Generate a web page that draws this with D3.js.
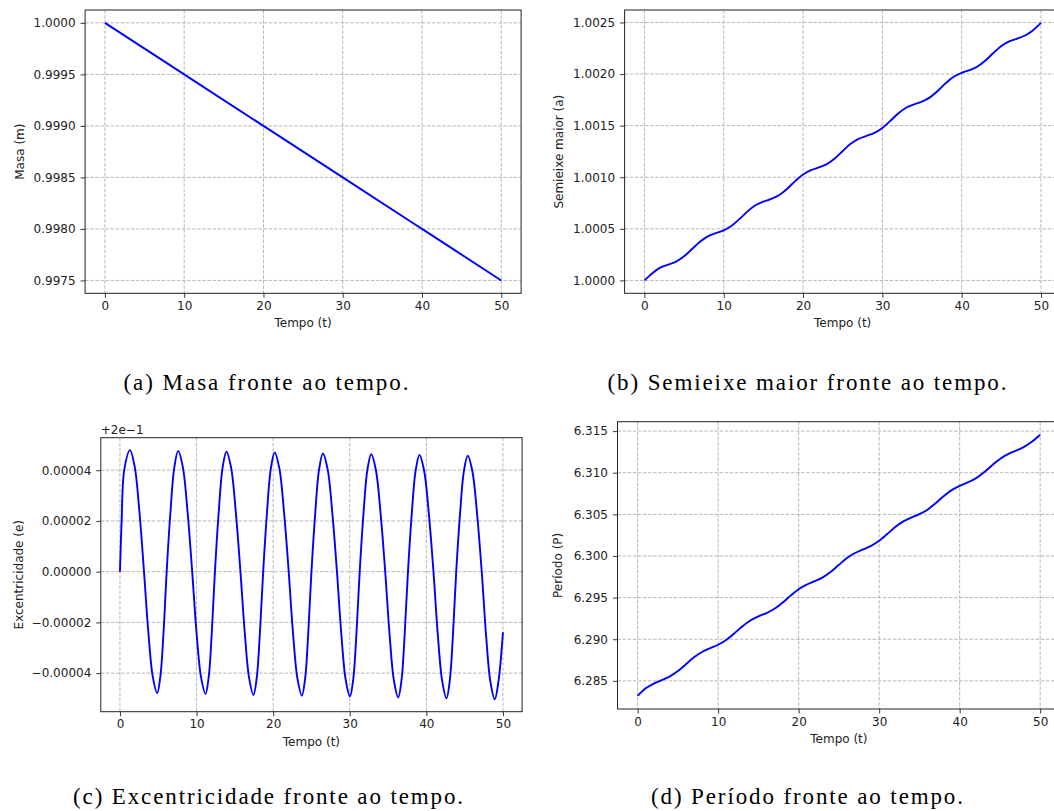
<!DOCTYPE html>
<html><head><meta charset="utf-8">
<script src="https://cdn.jsdelivr.net/npm/d3@7"></script>
<style>body{margin:0;background:#fff}svg{display:block}</style>
</head><body>
<svg id="fig" width="1054" height="811"></svg>
<script>
// ---------- data ----------
const xTicks = [0, 10, 20, 30, 40, 50];

// (a) Masa
const massTime = [0, 10, 20, 30, 40, 50];
const massValues = [1.0000, 0.9995, 0.9990, 0.9985, 0.9980, 0.9975];
const massTicks = [0.9975, 0.9980, 0.9985, 0.9990, 0.9995, 1.0000];
const massTickLabels = ["0.9975", "0.9980", "0.9985", "0.9990", "0.9995", "1.0000"];

// (b) Semieixe maior
const axisTime = [0,1,2,3,4,5,6,7,8,9,10,11,12,13,14,15,16,17,18,19,20,21,22,23,24,25,
  26,27,28,29,30,31,32,33,34,35,36,37,38,39,40,41,42,43,44,45,46,47,48,49,50];
const semiMajor = [1.0000000, 1.0000700, 1.0001249, 1.0001524, 1.0001827, 1.0002337, 1.0003042,
  1.0003753, 1.0004274, 1.0004583, 1.0004854, 1.0005297, 1.0005961, 1.0006694, 1.0007280,
  1.0007638, 1.0007897, 1.0008276, 1.0008885, 1.0009622, 1.0010267, 1.0010685, 1.0010949,
  1.0011275, 1.0011821, 1.0012542, 1.0013234, 1.0013718, 1.0014007, 1.0014294, 1.0014771,
  1.0015459, 1.0016183, 1.0016735, 1.0017065, 1.0017328, 1.0017740, 1.0018380, 1.0019117,
  1.0019732, 1.0020117, 1.0020376, 1.0020729, 1.0021309, 1.0022041, 1.0022709, 1.0023158,
  1.0023432, 1.0023737, 1.0024251, 1.0024959];
const semiTicks = [1.0000, 1.0005, 1.0010, 1.0015, 1.0020, 1.0025];
const semiTickLabels = ["1.0000", "1.0005", "1.0010", "1.0015", "1.0020", "1.0025"];

// (c) Excentricidade (offset from 0.2, in units of 1e-6)
const eccTime = [0, 0.22, 0.56, 1.31,
  1.92, 2.53, 3.14, 3.71, 4.29, 4.86, 5.27, 5.69, 6.10, 6.60, 7.10, 7.60,
  8.21, 8.82, 9.43, 10.00, 10.59, 11.17, 11.58, 11.99, 12.40, 12.90, 13.40, 13.90,
  14.51, 15.12, 15.73, 16.30, 16.87, 17.43, 17.85, 18.27, 18.70, 19.20, 19.70, 20.20,
  20.81, 21.42, 22.03, 22.60, 23.18, 23.75, 24.17, 24.58, 25.00, 25.50, 26.00, 26.50,
  27.11, 27.72, 28.33, 28.90, 29.47, 30.03, 30.45, 30.87, 31.30, 31.80, 32.30, 32.80,
  33.41, 34.02, 34.63, 35.20, 35.77, 36.33, 36.75, 37.17, 37.60, 38.10, 38.60, 39.10,
  39.71, 40.32, 40.93, 41.50, 42.07, 42.63, 43.05, 43.47, 43.90, 44.40, 44.90, 45.40,
  46.01, 46.62, 47.23, 47.80, 48.37, 48.93, 49.40, 50.00];
const eccOffsetMicro = [0, 20, 40, 47.9,
  41.5, 24.0, 0, -24.0, -41.5, -47.9, -41.5, -24.0, 0, 23.8, 41.2, 47.6,
  41.2, 23.8, 0, -24.1, -41.7, -48.2, -41.7, -24.1, 0, 23.7, 41.0, 47.3,
  41.0, 23.7, 0, -24.3, -42.1, -48.6, -42.1, -24.3, 0, 23.5, 40.7, 47.0,
  40.7, 23.5, 0, -24.5, -42.3, -48.9, -42.3, -24.5, 0, 23.3, 40.4, 46.6,
  40.4, 23.3, 0, -24.6, -42.6, -49.2, -42.6, -24.6, 0, 23.2, 40.1, 46.3,
  40.1, 23.2, 0, -24.8, -43.0, -49.6, -43.0, -24.8, 0, 23.0, 39.8, 46.0,
  39.8, 23.0, 0, -25.0, -43.2, -49.9, -43.2, -25.0, 0, 22.9, 39.6, 45.7,
  39.6, 22.9, 0, -25.2, -43.6, -50.3, -43.6, -23.9];
const eccTicks = [-0.00004, -0.00002, 0, 0.00002, 0.00004];
const eccTickLabels = ["\u22120.00004", "\u22120.00002", "0.00000", "0.00002", "0.00004"];
const eccOffsetLabel = "+2e\u22121";

// (d) Período
const periodValues = [6.28319, 6.28410, 6.28468, 6.28510, 6.28554, 6.28618, 6.28700, 6.28783,
  6.28847, 6.28892, 6.28934, 6.28991, 6.29069, 6.29154, 6.29225, 6.29275, 6.29315, 6.29366,
  6.29439, 6.29524, 6.29601, 6.29656, 6.29697, 6.29743, 6.29810, 6.29894, 6.29975, 6.30036,
  6.30079, 6.30122, 6.30182, 6.30263, 6.30347, 6.30415, 6.30461, 6.30502, 6.30556, 6.30633,
  6.30718, 6.30791, 6.30843, 6.30883, 6.30932, 6.31003, 6.31087, 6.31166, 6.31224, 6.31266,
  6.31310, 6.31374, 6.31456];
const periodTicks = [6.285, 6.290, 6.295, 6.300, 6.305, 6.310, 6.315];
const periodTickLabels = ["6.285", "6.290", "6.295", "6.300", "6.305", "6.310", "6.315"];

const captions = ["(a) Masa fronte ao tempo.", "(b) Semieixe maior fronte ao tempo.",
  "(c) Excentricidade fronte ao tempo.", "(d) Período fronte ao tempo."];
const yLabels = ["Masa (m)", "Semieixe maior (a)", "Excentricidade (e)", "Período (P)"];
const xLabel = "Tempo (t)";

// ---------- layout ----------
const svg = d3.select("#fig");
svg.append("rect").attr("width", 1054).attr("height", 811).attr("fill", "#fff");

const panels = [
  {box: {l: 85.1, r: 521.1, t: 10, b: 293.3}, xs: massTime, ys: massValues,
   ticks: massTicks, labels: massTickLabels, ylab: yLabels[0], ylabX: 23.5,
   cap: captions[0], capX: 266, capY: 390, capLen: 285},
  {box: {l: 624.6, r: 1060.8, t: 10, b: 293.3}, xs: axisTime, ys: semiMajor,
   ticks: semiTicks, labels: semiTickLabels, ylab: yLabels[1], ylabX: 563,
   cap: captions[1], capX: 807, capY: 390, capLen: 399},
  {box: {l: 100.8, r: 522.1, t: 437.7, b: 711.7}, xs: eccTime, ys: eccOffsetMicro.map(v => v * 1e-6),
   ticks: eccTicks, labels: eccTickLabels, ylab: yLabels[2], ylabX: 22.5,
   cap: captions[2], capX: 268, capY: 804, capLen: 390, offsetText: eccOffsetLabel},
  {box: {l: 617.5, r: 1060.3, t: 421.7, b: 709}, xs: axisTime, ys: periodValues,
   ticks: periodTicks, labels: periodTickLabels, ylab: yLabels[3], ylabX: 562,
   cap: captions[3], capX: 807, capY: 804, capLen: 312}
];

const FONT = "DejaVu Sans";
const ink = "#222";

panels.forEach(p => {
  const {l, r, t, b} = p.box;
  const x = d3.scaleLinear().domain([-2.5, 52.5]).range([l, r]);
  const [ymin, ymax] = d3.extent(p.ys);
  const pad = (ymax - ymin) * 0.05;
  const y = d3.scaleLinear().domain([ymin - pad, ymax + pad]).range([b, t]);
  const g = svg.append("g");

  // grid
  g.append("g").selectAll("line").data(xTicks).join("line")
    .attr("x1", d => x(d)).attr("x2", d => x(d)).attr("y1", t).attr("y2", b)
    .attr("stroke", "#b0b0b0").attr("stroke-width", 0.9).attr("stroke-dasharray", "3.5,1.6");
  g.append("g").selectAll("line").data(p.ticks).join("line")
    .attr("x1", l).attr("x2", r).attr("y1", d => y(d)).attr("y2", d => y(d))
    .attr("stroke", "#b0b0b0").attr("stroke-width", 0.9).attr("stroke-dasharray", "3.5,1.6");

  // line
  const line = d3.line().x((d, i) => x(p.xs[i])).y(d => y(d)).curve(d3.curveCatmullRom.alpha(0.5));
  g.append("path").datum(p.ys).attr("d", line).attr("fill", "none")
    .attr("stroke", "#0000ff").attr("stroke-width", 1.9).attr("stroke-linejoin", "round");

  // axes
  const xa = g.append("g").attr("transform", `translate(0,${b})`)
    .call(d3.axisBottom(x).tickValues(xTicks).tickSize(4.5).tickPadding(3.5).tickFormat(d3.format("d")));
  const labelMap = new Map(p.ticks.map((v, i) => [v, p.labels[i]]));
  const ya = g.append("g").attr("transform", `translate(${l},0)`)
    .call(d3.axisLeft(y).tickValues(p.ticks).tickSize(4.5).tickPadding(5).tickFormat(d => labelMap.get(d)));
  [xa, ya].forEach(a => {
    a.select(".domain").remove();
    a.attr("color", ink).attr("font-family", FONT).attr("font-size", 12);
    a.selectAll("line").attr("stroke-width", 0.9);
  });

  // frame
  g.append("rect").attr("x", l).attr("y", t).attr("width", r - l).attr("height", b - t)
    .attr("fill", "none").attr("stroke", ink).attr("stroke-width", 1);

  // axis labels
  g.append("text").attr("x", (l + r) / 2).attr("y", b + 34).attr("text-anchor", "middle")
    .attr("font-family", FONT).attr("font-size", 12).attr("fill", ink).text(xLabel);
  g.append("text").attr("transform", `translate(${p.ylabX},${(t + b) / 2}) rotate(-90)`)
    .attr("text-anchor", "middle").attr("font-family", FONT).attr("font-size", 12)
    .attr("fill", ink).text(p.ylab);

  if (p.offsetText) {
    g.append("text").attr("x", l).attr("y", t - 3.5).attr("font-family", FONT)
      .attr("font-size", 12).attr("fill", ink).text(p.offsetText);
  }

  // caption
  svg.append("text").attr("x", p.capX).attr("y", p.capY).attr("text-anchor", "middle")
    .attr("font-family", "Liberation Serif").attr("font-size", 23).attr("fill", "#000")
    .attr("textLength", p.capLen).attr("lengthAdjust", "spacing").text(p.cap);
});
</script>
</body></html>
